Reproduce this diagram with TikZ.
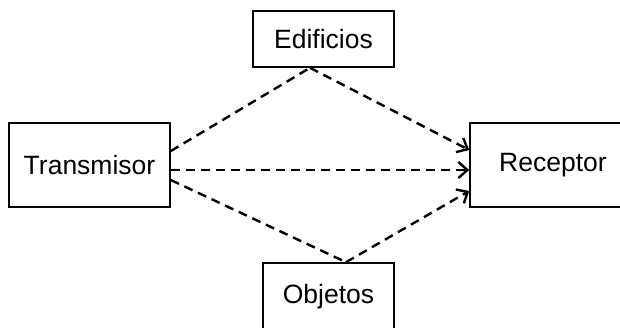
\documentclass[tikz,border=0pt]{standalone}
\usepackage{fontspec}
\setmainfont{Liberation Sans}
\usetikzlibrary{arrows.meta}
\begin{document}
\begin{tikzpicture}[x=1pt,y=-1pt,
  block/.style={draw=black, line width=1.6pt, fill=white, inner sep=0pt,
    font=\fontsize{26.5}{31}\selectfont},
  link/.style={draw=black, line width=2.4pt, dash pattern=on 9pt off 6pt},
  arr/.style={link, -{Straight Barb[length=9pt,width=16pt,line width=2.4pt]}}]
  \useasboundingbox (0,0) rectangle (620,327);
  \clip (0,0) rectangle (620,327);
  \fill[white] (0,0) rectangle (620,327);

  % blocks
  \node[block, minimum width=161pt, minimum height=84pt] (tx) at (89.5,165) {Transmisor};
  \node[block, minimum width=166pt, minimum height=84pt] (rx) at (553,165) {Receptor};
  \node[block, minimum width=141pt, minimum height=56pt] (ed) at (323.5,39) {Edificios};
  \node[block, minimum width=131pt, minimum height=68pt] (ob) at (328.5,297) {Objetos};

  % contact points on the block edges
  \coordinate (txa) at ([yshift=14pt]tx.east);
  \coordinate (txb) at ([yshift=-5pt]tx.east);
  \coordinate (txc) at ([yshift=-15pt]tx.east);
  \coordinate (rxa) at ([yshift=15pt]rx.west);
  \coordinate (rxb) at ([yshift=-5pt]rx.west);
  \coordinate (rxc) at ([yshift=-26pt]rx.west);
  \coordinate (eds) at ([xshift=-13.5pt]ed.south);
  \coordinate (obn) at ([xshift=17.5pt]ob.north);

  % paths
  \draw[link] (txa) -- (eds);
  \draw[arr] (eds) -- (rxa);
  \draw[arr] (txb) -- (rxb);
  \draw[link] (txc) -- (obn);
  \draw[arr] (obn) -- (rxc);
\end{tikzpicture}
\end{document}
